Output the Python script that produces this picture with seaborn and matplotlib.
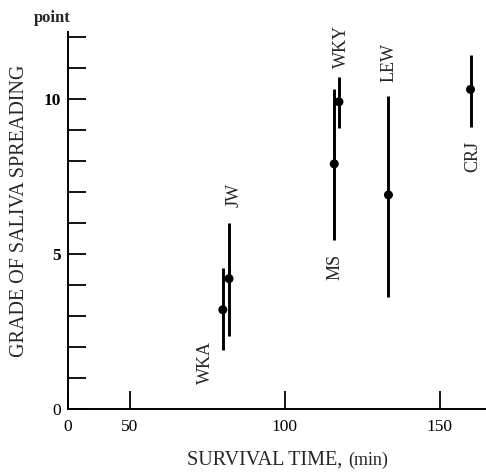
import numpy as np
import pandas as pd
import matplotlib
matplotlib.use("Agg")
import matplotlib.pyplot as plt
import seaborn as sns

# subjects, survival time (min) and grade of saliva spreading
subjects = ["WKA", "JW", "MS", "WKY", "LEW", "CRJ"]
survival = [80, 82, 116, 117.5, 133.5, 160]
grade = [3.2, 4.2, 7.9, 9.9, 6.9, 10.3]
grade_low = [1.9, 2.35, 5.45, 9.05, 3.6, 9.1]
grade_high = [4.55, 6.0, 10.3, 10.7, 10.1, 11.4]

# label anchor (x, y, vertical alignment) for each subject
label_x = [74.5, 83.5, 116.3, 118.2, 133.8, 160.7]
label_y = [2.2, 6.5, 5.0, 11.0, 10.55, 8.65]
label_va = ["top", "bottom", "top", "bottom", "bottom", "top"]

df = pd.DataFrame({"subject": subjects, "time": survival, "grade": grade,
                   "low": grade_low, "high": grade_high})

sns.set_style("ticks")
plt.rcParams["font.family"] = ["Liberation Serif", "DejaVu Serif"]

fig = plt.figure(figsize=(4.86, 4.76), dpi=100)
ax = fig.add_axes([68 / 486, 67 / 476, 418 / 486, 377 / 476])

ax.vlines(df["time"], df["low"], df["high"], color="black", lw=2.1, zorder=2)
sns.scatterplot(data=df, x="time", y="grade", color="black", s=42,
                edgecolor="none", zorder=3, ax=ax, legend=False)

for name, lx, ly, va in zip(subjects, label_x, label_y, label_va):
    ax.text(lx, ly, name, rotation=90, ha="center", va=va, fontsize=13)

ax.set_xlim(30, 165)
ax.set_ylim(0, 12.15)
sns.despine(ax=ax)
for s in ["left", "bottom"]:
    ax.spines[s].set_linewidth(1.4)
    ax.spines[s].set_color("black")

ax.set_xticks([30, 50, 100, 150])
ax.set_xticklabels(["0", "50", "100", "150"], fontsize=12.5)
ax.tick_params(axis="x", direction="in", length=13, width=1.3, pad=7, colors="black")
ax.set_yticks(np.arange(0, 13))
ax.set_yticklabels(["0", "", "", "", "", "5", "", "", "", "", "10", "", ""], fontsize=12.5)
for lab, t in zip(ax.get_yticklabels(), range(13)):
    if t in (5, 10):
        lab.set_fontweight("bold")
ax.tick_params(axis="y", direction="in", length=13, width=1.3, pad=5, colors="black")
ax.set_xlabel("")
ax.set_ylabel("")

fig.text(187 / 486, 1 - 465 / 476, "SURVIVAL TIME,", ha="left", va="baseline", fontsize=14.5)
fig.text(348 / 486, 1 - 465 / 476, "(min)", ha="left", va="baseline", fontsize=13)
fig.text(20 / 486, 1 - 211 / 476, "GRADE OF SALIVA SPREADING", rotation=90,
         ha="center", va="center", fontsize=14.5)
fig.text(52 / 486, 1 - 18 / 476, "point", ha="center", va="center", fontsize=12, fontweight="bold")

fig.savefig("out.png", dpi=100)
